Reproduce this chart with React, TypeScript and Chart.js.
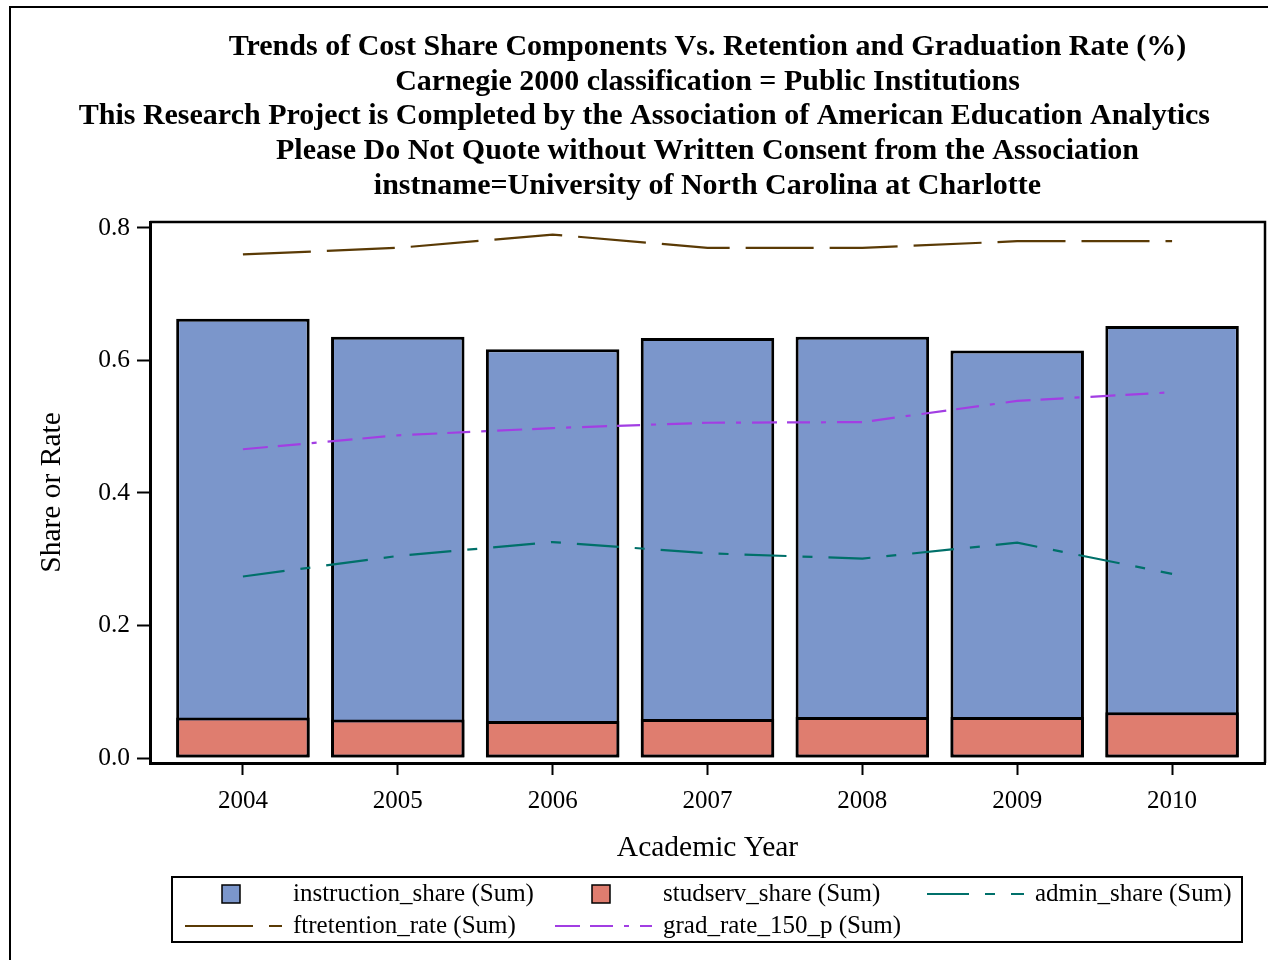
import React, { useEffect, useRef } from "react";
import { Chart, registerables } from "chart.js";

Chart.register(...registerables);

const YEARS = [2004, 2005, 2006, 2007, 2008, 2009, 2010];
const INSTRUCTION_SHARE = [0.663, 0.636, 0.617, 0.634, 0.636, 0.615, 0.652];
const STUDSERV_SHARE = [0.061, 0.058, 0.056, 0.059, 0.062, 0.062, 0.069];
const ADMIN_SHARE = [0.274, 0.305, 0.326, 0.309, 0.301, 0.325, 0.278];
const FTRETENTION_RATE = [0.76, 0.77, 0.79, 0.77, 0.77, 0.78, 0.78];
const GRAD_RATE_150_P = [0.466, 0.487, 0.498, 0.506, 0.507, 0.539, 0.552];
const Y_TICKS = [0, 0.2, 0.4, 0.6, 0.8];

const TITLE_LINES = [
  "Trends of Cost Share Components Vs. Retention and Graduation Rate (%)",
  "Carnegie 2000 classification = Public Institutions",
  "This Research Project is Completed by the Association of American Education Analytics",
  "Please Do Not Quote without Written Consent from the Association",
  "instname=University of North Carolina at Charlotte",
];
const X_TITLE = "Academic Year";
const Y_TITLE = "Share or Rate";

const SERIF = '"Liberation Serif", "Times New Roman", Times, serif';

const COLORS = {
  instruction: "#7b96cb",
  studserv: "#df7d6f",
  admin: "#00706a",
  ftretention: "#5a3a05",
  grad: "#a23ee3",
};

const pts = (vals: number[]) => YEARS.map((x, i) => ({ x, y: vals[i] }));

const decorPlugin = {
  id: "decor",
  beforeDraw(chart: any) {
    const ctx = chart.ctx;
    ctx.save();
    ctx.fillStyle = "#fff";
    ctx.fillRect(0, 0, chart.width, chart.height);
    // outer frame (cropped on right and bottom)
    ctx.fillStyle = "#000";
    ctx.fillRect(9, 6, chart.width - 9, 2);
    ctx.fillRect(9, 6, 2, chart.height - 6);
    ctx.restore();
  },
  afterDraw(chart: any) {
    const ctx = chart.ctx;
    const ca = chart.chartArea;
    ctx.save();
    // plot frame top/right
    ctx.strokeStyle = "#000";
    ctx.lineWidth = 2.5;
    ctx.beginPath();
    ctx.moveTo(ca.left, ca.top);
    ctx.lineTo(ca.right, ca.top);
    ctx.lineTo(ca.right, ca.bottom);
    ctx.stroke();

    // titles
    ctx.fillStyle = "#000";
    ctx.font = `bold 30px ${SERIF}`;
    ctx.textAlign = "center";
    ctx.textBaseline = "middle";
    const cx = (ca.left + ca.right) / 2;
    TITLE_LINES.forEach((t, i) => {
      const w = ctx.measureText(t).width;
      const x = Math.min(cx, 1210 - w / 2);
      ctx.fillText(t, x, 47 + i * 34.8);
    });

    // legend
    ctx.lineWidth = 2;
    ctx.strokeStyle = "#000";
    ctx.strokeRect(172, 877, 1070, 65);
    const colX = [293, 663, 1035];
    const rowY = [894, 926];
    ctx.font = `25px ${SERIF}`;
    ctx.textAlign = "left";
    ctx.textBaseline = "middle";
    const ds = chart.data.datasets;
    const legendOrder = [3, 4, 0, 1, 2];
    legendOrder.forEach((di, k) => {
      const d = ds[di];
      const tx = colX[k % 3];
      const ty = rowY[Math.floor(k / 3)];
      if (d.type === "bar") {
        ctx.fillStyle = d.backgroundColor;
        ctx.fillRect(tx - 71, ty - 9, 18, 18);
        ctx.lineWidth = 1.5;
        ctx.strokeStyle = "#000";
        ctx.strokeRect(tx - 71, ty - 9, 18, 18);
      } else {
        ctx.strokeStyle = d.borderColor;
        ctx.lineWidth = 2;
        ctx.setLineDash(d.borderDash);
        ctx.beginPath();
        ctx.moveTo(tx - 108, ty);
        ctx.lineTo(tx - 11, ty);
        ctx.stroke();
        ctx.setLineDash([]);
      }
      ctx.fillStyle = "#000";
      ctx.fillText(d.label, tx, ty);
    });
    ctx.restore();
  },
};

export default function App() {
  const ref = useRef<HTMLCanvasElement | null>(null);
  useEffect(() => {
    if (!ref.current) return;
    const chart = new Chart(ref.current, {
      type: "bar",
      data: {
        datasets: [
          {
            type: "line",
            label: "admin_share (Sum)",
            data: pts(ADMIN_SHARE),
            borderColor: COLORS.admin,
            backgroundColor: COLORS.admin,
            borderWidth: 2.2,
            borderDash: [42, 16, 10, 16],
            pointRadius: 0,
            tension: 0,
            order: 0,
          } as any,
          {
            type: "line",
            label: "ftretention_rate (Sum)",
            data: pts(FTRETENTION_RATE),
            borderColor: COLORS.ftretention,
            backgroundColor: COLORS.ftretention,
            borderWidth: 2.2,
            borderDash: [68, 16],
            pointRadius: 0,
            tension: 0,
            order: 0,
          } as any,
          {
            type: "line",
            label: "grad_rate_150_p (Sum)",
            data: pts(GRAD_RATE_150_P),
            borderColor: COLORS.grad,
            backgroundColor: COLORS.grad,
            borderWidth: 2.2,
            borderDash: [25, 10, 23, 11, 5, 11],
            pointRadius: 0,
            tension: 0,
            order: 0,
          } as any,
          {
            type: "bar",
            label: "instruction_share (Sum)",
            data: pts(INSTRUCTION_SHARE),
            backgroundColor: COLORS.instruction,
            borderColor: "#000",
            borderWidth: 3,
            borderSkipped: false,
            grouped: false,
            categoryPercentage: 1,
            barPercentage: 0.862,
            order: 2,
          } as any,
          {
            type: "bar",
            label: "studserv_share (Sum)",
            data: pts(STUDSERV_SHARE),
            backgroundColor: COLORS.studserv,
            borderColor: "#000",
            borderWidth: 3,
            borderSkipped: false,
            grouped: false,
            categoryPercentage: 1,
            barPercentage: 0.862,
            order: 1,
          } as any,
        ],
      },
      options: {
        responsive: false,
        animation: false,
        layout: { padding: { top: 222, right: 3, left: 0, bottom: 0 } },
        plugins: {
          legend: { display: false },
          title: { display: false },
          tooltip: { enabled: false },
        },
        scales: {
          x: {
            type: "linear",
            offset: false,
            min: 2003.4,
            max: 2010.6,
            afterFit: (s: any) => {
              s.height = 197;
            },
            afterBuildTicks: (s: any) => {
              s.ticks = YEARS.map((v) => ({ value: v }));
            },
            ticks: {
              color: "#000",
              font: { family: SERIF, size: 25 },
              padding: 11,
              callback: (v: any) => String(v),
              maxRotation: 0,
              autoSkip: false,
            },
            grid: {
              display: true,
              drawOnChartArea: false,
              drawTicks: true,
              tickLength: 12,
              tickWidth: 2,
              tickColor: "#000",
              offset: false,
            },
            border: { display: true, color: "#000", width: 3 },
            title: {
              display: true,
              text: X_TITLE,
              color: "#000",
              font: { family: SERIF, size: 29.5 },
              padding: { top: 0, bottom: 94 },
            },
          },
          y: {
            type: "linear",
            min: -0.0075,
            max: 0.809,
            afterFit: (s: any) => {
              s.width = 150;
            },
            afterBuildTicks: (s: any) => {
              s.ticks = Y_TICKS.map((v) => ({ value: v }));
            },
            ticks: {
              color: "#000",
              font: { family: SERIF, size: 25.5 },
              padding: 7,
              callback: (v: any) => Number(v).toFixed(1),
            },
            grid: {
              display: true,
              drawOnChartArea: false,
              drawTicks: true,
              tickLength: 13,
              tickWidth: 2,
              tickColor: "#000",
            },
            border: { display: true, color: "#000", width: 3 },
            title: {
              display: true,
              text: Y_TITLE,
              color: "#000",
              font: { family: SERIF, size: 29.5 },
              padding: { top: 35, bottom: 0 },
            },
          },
        },
      },
      plugins: [decorPlugin],
    } as any);
    return () => chart.destroy();
  }, []);
  return (
    <div style={{ position: "fixed", left: 0, top: 0, width: 1268, height: 960, background: "#fff" }}>
      <canvas ref={ref} width={1268} height={960} style={{ display: "block" }} />
    </div>
  );
}
